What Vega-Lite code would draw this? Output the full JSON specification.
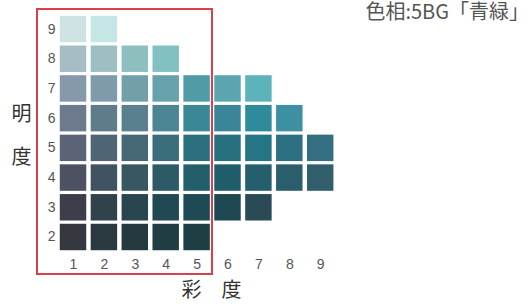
{
  "$schema": "https://vega.github.io/schema/vega-lite/v6.json",
  "width": 475,
  "height": 238,
  "autosize": "none",
  "padding": {"left": 57, "top": 14, "right": 0, "bottom": 52},
  "background": "white",
  "config": {
    "view": {"stroke": null},
    "axis": {"labelOverlap": false, "ticks": false, "domain": false, "grid": false,
      "labelFont": "Liberation Sans", "labelFontSize": 14, "labelColor": "#555555",
      "titleFont": "Noto Sans CJK JP", "titleFontSize": 20, "titleFontWeight": "normal", "titleColor": "#333333"}
  },
  "layer": [
    {
      "data": {
        "values": [
          {"c": 1, "v": 9, "chip": "9/1"}, {"c": 2, "v": 9, "chip": "9/2"},
          {"c": 1, "v": 8, "chip": "8/1"}, {"c": 2, "v": 8, "chip": "8/2"}, {"c": 3, "v": 8, "chip": "8/3"}, {"c": 4, "v": 8, "chip": "8/4"},
          {"c": 1, "v": 7, "chip": "7/1"}, {"c": 2, "v": 7, "chip": "7/2"}, {"c": 3, "v": 7, "chip": "7/3"}, {"c": 4, "v": 7, "chip": "7/4"}, {"c": 5, "v": 7, "chip": "7/5"}, {"c": 6, "v": 7, "chip": "7/6"}, {"c": 7, "v": 7, "chip": "7/7"},
          {"c": 1, "v": 6, "chip": "6/1"}, {"c": 2, "v": 6, "chip": "6/2"}, {"c": 3, "v": 6, "chip": "6/3"}, {"c": 4, "v": 6, "chip": "6/4"}, {"c": 5, "v": 6, "chip": "6/5"}, {"c": 6, "v": 6, "chip": "6/6"}, {"c": 7, "v": 6, "chip": "6/7"}, {"c": 8, "v": 6, "chip": "6/8"},
          {"c": 1, "v": 5, "chip": "5/1"}, {"c": 2, "v": 5, "chip": "5/2"}, {"c": 3, "v": 5, "chip": "5/3"}, {"c": 4, "v": 5, "chip": "5/4"}, {"c": 5, "v": 5, "chip": "5/5"}, {"c": 6, "v": 5, "chip": "5/6"}, {"c": 7, "v": 5, "chip": "5/7"}, {"c": 8, "v": 5, "chip": "5/8"}, {"c": 9, "v": 5, "chip": "5/9"},
          {"c": 1, "v": 4, "chip": "4/1"}, {"c": 2, "v": 4, "chip": "4/2"}, {"c": 3, "v": 4, "chip": "4/3"}, {"c": 4, "v": 4, "chip": "4/4"}, {"c": 5, "v": 4, "chip": "4/5"}, {"c": 6, "v": 4, "chip": "4/6"}, {"c": 7, "v": 4, "chip": "4/7"}, {"c": 8, "v": 4, "chip": "4/8"}, {"c": 9, "v": 4, "chip": "4/9"},
          {"c": 1, "v": 3, "chip": "3/1"}, {"c": 2, "v": 3, "chip": "3/2"}, {"c": 3, "v": 3, "chip": "3/3"}, {"c": 4, "v": 3, "chip": "3/4"}, {"c": 5, "v": 3, "chip": "3/5"}, {"c": 6, "v": 3, "chip": "3/6"}, {"c": 7, "v": 3, "chip": "3/7"},
          {"c": 1, "v": 2, "chip": "2/1"}, {"c": 2, "v": 2, "chip": "2/2"}, {"c": 3, "v": 2, "chip": "2/3"}, {"c": 4, "v": 2, "chip": "2/4"}, {"c": 5, "v": 2, "chip": "2/5"}
        ]
      },
      "mark": {"type": "square", "size": 700, "filled": true, "opacity": 1, "strokeWidth": 0},
      "encoding": {
        "x": {
          "field": "c", "type": "quantitative",
          "scale": {"domain": [0.482, 15.854], "nice": false, "zero": false},
          "axis": {
            "values": [1, 2, 3, 4, 5, 6, 7, 8, 9],
            "labelPadding": 5,
            "title": "彩　度",
            "titleX": 154, "titleY": 38, "titleBaseline": "middle", "titleAnchor": "middle", "titleAlign": "center"
          }
        },
        "y": {
          "field": "v", "type": "quantitative",
          "scale": {"domain": [1.495, 9.505], "nice": false, "zero": false},
          "axis": {
            "values": [2, 3, 4, 5, 6, 7, 8, 9],
            "tickCount": 8,
            "labelPadding": 2,
            "title": ["明", "度"],
            "titleAngle": 0, "titleLineHeight": 43,
            "titleX": -36, "titleY": 100, "titleBaseline": "middle", "titleAlign": "center"
          }
        },
        "color": {
          "field": "chip", "type": "nominal", "legend": null,
          "scale": {
            "domain": ["9/1","9/2","8/1","8/2","8/3","8/4","7/1","7/2","7/3","7/4","7/5","7/6","7/7","6/1","6/2","6/3","6/4","6/5","6/6","6/7","6/8","5/1","5/2","5/3","5/4","5/5","5/6","5/7","5/8","5/9","4/1","4/2","4/3","4/4","4/5","4/6","4/7","4/8","4/9","3/1","3/2","3/3","3/4","3/5","3/6","3/7","2/1","2/2","2/3","2/4","2/5"],
            "range": ["#cfe3e3","#c4e6e4","#a5bec6","#9dbfc3","#8dbfc0","#82c1c1","#8599aa","#7e9aab","#71a0ab","#66a2ac","#4f9ba6","#5ba5b1","#5cb3bc","#6b7a8c","#5f7c8d","#5a8090","#4c8593","#3a8796","#3a8698","#2f8b9b","#3d90a1","#5b6376","#4f6475","#466776","#3b6e7b","#2c7080","#267080","#247585","#2c7082","#336f80","#4c5262","#3f5362","#385761","#2c5a66","#235e6b","#1f5d6b","#255f6d","#2a5e6c","#315f6c","#3c3e49","#30434d","#29454f","#204953","#1d4a55","#1d4852","#2a4b56","#35373f","#2b3a40","#243a40","#1f3d42","#1d3f44"]
          }
        }
      }
    },
    {
      "data": {"values": [{"box": "chroma 1-5"}]},
      "mark": {"type": "rect", "filled": false, "stroke": "#d9404a", "strokeWidth": 2},
      "encoding": {
        "x": {"datum": -0.165, "axis": {"values": [1, 2, 3, 4, 5, 6, 7, 8, 9]}},
        "x2": {"datum": 5.498},
        "y": {"datum": 9.673, "axis": {"values": [2, 3, 4, 5, 6, 7, 8, 9], "tickCount": 8}},
        "y2": {"datum": 0.754}
      }
    },
    {
      "data": {"values": [{"label": "色相:5BG「青緑」"}]},
      "mark": {"type": "text", "align": "right", "baseline": "middle", "font": "Noto Sans CJK JP", "fontSize": 20, "color": "#555555"},
      "encoding": {
        "text": {"field": "label", "type": "nominal"},
        "x": {"datum": 15.757, "axis": {"values": [1, 2, 3, 4, 5, 6, 7, 8, 9]}},
        "y": {"datum": 9.54, "axis": {"values": [2, 3, 4, 5, 6, 7, 8, 9], "tickCount": 8}}
      }
    }
  ]
}
